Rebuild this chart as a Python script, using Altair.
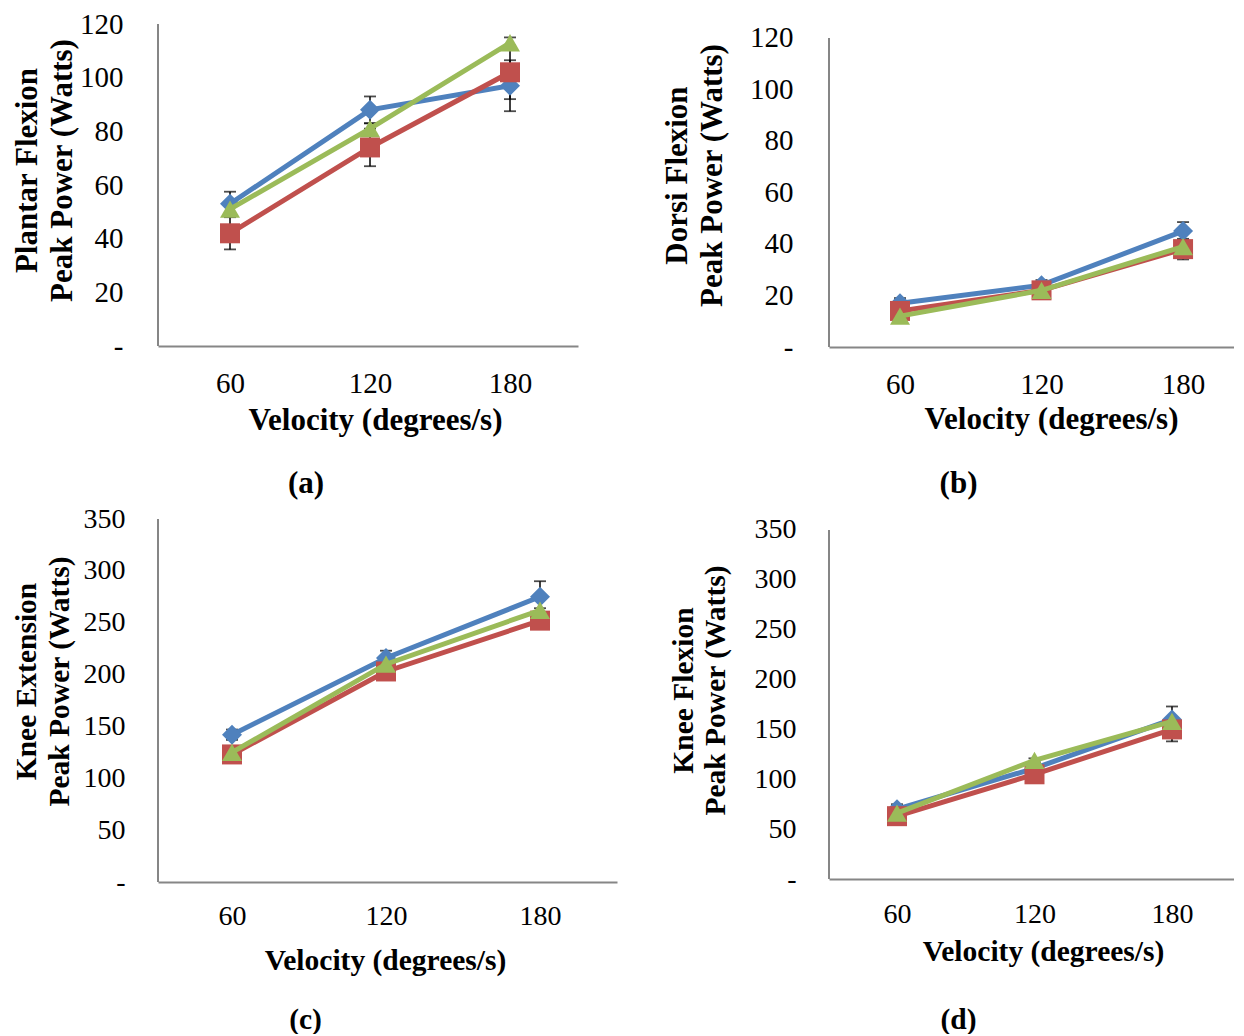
import altair as alt
import pandas as pd

FONT = "Liberation Serif"

velocity = [60, 120, 180]
series_names = ["Series 1", "Series 2", "Series 3"]
series_colors = ["#4F81BD", "#C0504D", "#9BBB59"]
series_shapes = ["diamond", "square", "triangle-up"]

# (a) Plantar flexion peak power
pf_s1 = [53, 88, 97]
pf_s2 = [42, 74, 102]
pf_s3 = [51, 81, 113]
pf_e1 = [4.5, 5, 9.5]
pf_e2 = [6, 7, 10]
pf_e3 = [2, 2, 2]

# (b) Dorsi flexion peak power
df_s1 = [17, 24, 45]
df_s2 = [14, 22, 38]
df_s3 = [12, 22, 39]
df_e1 = [2, 2, 3.5]
df_e2 = [2, 2, 4]
df_e3 = [1.5, 1.5, 1.5]

# (c) Knee extension peak power
ke_s1 = [142, 216, 275]
ke_s2 = [123, 203, 252]
ke_s3 = [125, 210, 262]
ke_e1 = [5, 7, 15]
ke_e2 = [5, 6, 8]
ke_e3 = [2, 2, 2]

# (d) Knee flexion peak power
kf_s1 = [70, 111, 160]
kf_s2 = [63, 105, 150]
kf_s3 = [66, 119, 158]
kf_e1 = [5, 6, 13]
kf_e2 = [5, 6, 12]
kf_e3 = [2, 2, 2]

ankle_ticks = [0, 20, 40, 60, 80, 100, 120]
knee_ticks = [0, 50, 100, 150, 200, 250, 300, 350]

x_title = "Velocity (degrees/s)"


def make_panel(vals, errs, yticks, ydom, xdom, width, height, ytitle, tag, p):
    rows = []
    for name, v, e in zip(series_names, vals, errs):
        for vel, val, err in zip(velocity, v, e):
            rows.append({"velocity": vel, "power": val, "lo": val - err,
                         "hi": val + err, "series": name})
    data = pd.DataFrame(rows)
    xs = alt.Scale(domain=xdom, nice=False, zero=False)
    ys = alt.Scale(domain=ydom, nice=False, zero=False)

    x_axis = alt.Axis(values=velocity, ticks=False, tickSize=0, grid=False,
                      domain=True, domainColor="#868686", domainWidth=2,
                      labelFont=FONT, labelFontSize=p["lfs"], labelColor="black",
                      labelPadding=p["xlp"], labelFlush=False, labelOverlap=False,
                      title=x_title, titleFont=FONT, titleFontSize=p["tfs"],
                      titleFontWeight="bold", titleColor="black",
                      titlePadding=p["xtp"], titleX=p["xtx"])
    y_axis = alt.Axis(values=yticks, ticks=False, tickSize=0, grid=False,
                      domain=False,
                      labelExpr="datum.value == 0 ? '-' : datum.label",
                      labelFont=FONT, labelFontSize=p["lfs"], labelColor="black",
                      labelPadding=p["ylp"], labelFlush=False, labelOverlap=False,
                      title=ytitle, titleFont=FONT, titleFontSize=p["tfs"],
                      titleFontWeight="bold", titleColor="black",
                      titleLineHeight=p["tlh"], titlePadding=p["ytp"],
                      titleY=p["yty"])

    def X(field):
        return alt.X(field, scale=xs, axis=x_axis)

    def Y(field):
        return alt.Y(field, scale=ys, axis=y_axis)

    base = alt.Chart(data)
    layers = []
    # y axis line (0 .. top tick)
    axis_line = alt.Chart(pd.DataFrame({"velocity": [xdom[0]], "y0": [yticks[0]],
                                        "y1": [yticks[-1]]})).mark_rule(
        color="#868686", strokeWidth=2).encode(
        x=X("velocity:Q"), y=Y("y0:Q"), y2="y1:Q")
    layers.append(axis_line)
    # error bars
    err_v = base.mark_rule(color="black", strokeWidth=1.5).encode(
        x=X("velocity:Q"), y=Y("lo:Q"), y2="hi:Q")
    cap_lo = base.mark_tick(color="black", thickness=1.8, size=12, orient="horizontal").encode(
        x=X("velocity:Q"), y=Y("lo:Q"))
    cap_hi = base.mark_tick(color="black", thickness=1.8, size=12, orient="horizontal").encode(
        x=X("velocity:Q"), y=Y("hi:Q"))
    layers += [err_v, cap_lo, cap_hi]
    for name, col, shp in zip(series_names, series_colors, series_shapes):
        sub = base.transform_filter(alt.datum.series == name)
        line = sub.mark_line(color=col, strokeWidth=5).encode(
            x=X("velocity:Q"), y=Y("power:Q"))
        pts = sub.mark_point(shape=shp, filled=True, color=col, size=400, opacity=1).encode(
            x=X("velocity:Q"), y=Y("power:Q"))
        layers += [line, pts]

    return alt.layer(*layers).properties(
        width=width, height=height,
        title=alt.TitleParams(text=tag, orient="bottom", anchor="middle", frame="group",
                              dx=p["tagdx"], offset=p["tagoff"], font=FONT,
                              fontSize=p["tfs"], fontWeight="bold", color="black"))


pa = dict(lfs=29, tfs=31, tlh=35, xlp=23, xtp=7, xtx=217, ylp=35, ytp=1, yty=146,
          tagdx=-62, tagoff=34)
pb = dict(lfs=29, tfs=31, tlh=35, xlp=23, xtp=5, xtx=222, ylp=36, ytp=21, yty=151,
          tagdx=-73, tagoff=35)
pc = dict(lfs=28, tfs=29.5, tlh=33, xlp=20, xtp=16, xtx=227, ylp=33, ytp=9, yty=162,
          tagdx=-82, tagoff=31)
pd_ = dict(lfs=28, tfs=29.5, tlh=32, xlp=21, xtp=9, xtx=214, ylp=33, ytp=24, yty=171,
           tagdx=-73, tagoff=40)

a = make_panel([pf_s1, pf_s2, pf_s3], [pf_e1, pf_e2, pf_e3], ankle_ticks, [0, 120],
               [29.14, 209.14], 420, 322, ["Plantar Flexion", "Peak Power (Watts)"], "(a)", pa)
b = make_panel([df_s1, df_s2, df_s3], [df_e1, df_e2, df_e3], ankle_ticks, [0, 125.4],
               [29.9, 201.6], 405, 323, ["Dorsi Flexion", "Peak Power (Watts)"], "(b)", pb)
c = make_panel([ke_s1, ke_s2, ke_s3], [ke_e1, ke_e2, ke_e3], knee_ticks, [0, 350],
               [31.17, 210.0], 459, 363, ["Knee Extension", "Peak Power (Watts)"], "(c)", pc)
d = make_panel([kf_s1, kf_s2, kf_s3], [kf_e1, kf_e2, kf_e3], knee_ticks, [0, 361],
               [30.33, 207.06], 405, 360, ["Knee Flexion", "Peak Power (Watts)"], "(d)", pd_)

row1 = alt.hconcat(a, b, spacing=83)
row2 = alt.hconcat(c, d, spacing=51)
chart = alt.vconcat(row1, row2, spacing=6).properties(
    padding={"left": 3, "top": 2, "right": 0, "bottom": 0},
    background="white"
).configure_view(stroke="transparent", strokeWidth=0)

chart.save("out.html", embed_options={"renderer": "svg", "actions": False})
